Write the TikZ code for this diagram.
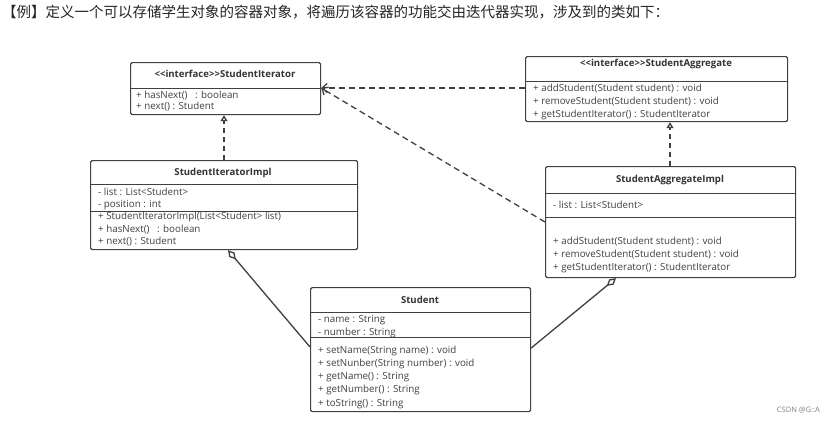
\documentclass[tikz,border=0pt]{standalone}
\usepackage{fontspec}
\setmainfont{Open Sans}[Ligatures=NoCommon]
\newfontfamily\cjk{Noto Sans CJK SC}
\usetikzlibrary{arrows.meta}
\begin{document}
\begin{tikzpicture}[x=1pt,y=-1pt,
  box/.style={draw=black!75,line width=1.2pt,rounded corners=1.5pt,inner sep=0pt},
  div/.style={draw=black!75,line width=1pt},
  tt/.style={font=\fontsize{9.6}{10}\selectfont\bfseries,text=black!80,inner sep=0pt},
  it/.style={font=\fontsize{9.8}{10}\selectfont,text=black!75,anchor=west,inner sep=0pt},
  real/.style={draw=black!75,line width=1.3pt,dash pattern=on 5pt off 4pt,-{Triangle[open,length=6pt,width=7pt]}},
  dep/.style={draw=black!75,line width=1.3pt,dash pattern=on 6pt off 4pt,-{Straight Barb[length=5pt,width=9pt]}},
  agg/.style={draw=black!75,line width=1.3pt,{Diamond[open,length=12pt,width=7pt]}-}]
\useasboundingbox (0,0) rectangle (833,424);
\fill[white] (0,0) rectangle (833,424);
\node[anchor=west,inner sep=0pt,font=\cjk\fontsize{14.5}{16}\selectfont,text=black!85] (title) at (2,12) {【例】定义一个可以存储学生对象的容器对象，将遍历该容器的功能交由迭代器实现，涉及到的类如下：};
\node[anchor=east,inner sep=0pt,font=\fontsize{7.5}{8}\selectfont,text=black!50] (csdn) at (820,410) {CSDN @G::A};
% StudentIterator
\node[box,minimum width=190pt,minimum height=52pt,anchor=north west] (si) at (130,62) {};
\draw[div] (130,88) -- (320,88);
\node[tt] (sit) at (225,74) {{<}{<}interface{>}{>}StudentIterator};
\node[it] (si1) at (136,96) {+ hasNext()\ \ \ : boolean};
\node[it] (si2) at (136,107) {+ next() : Student};
% StudentAggregate
\node[box,minimum width=262pt,minimum height=65pt,anchor=north west] (sa) at (525,56) {};
\draw[div] (525,81) -- (787,81);
\node[tt] (sat) at (656,64) {{<}{<}interface{>}{>}StudentAggregate};
\node[it] (sa1) at (533,89) {+ addStudent(Student student) : void};
\node[it] (sa2) at (533,102) {+ removeStudent(Student student) : void};
\node[it] (sa3) at (533,115) {+ getStudentIterator() : StudentIterator};
% StudentIteratorImpl
\node[box,minimum width=267pt,minimum height=89pt,anchor=north west] (sii) at (90,160) {};
\draw[div] (90,184) -- (357,184);
\draw[div] (90,211) -- (357,211);
\node[tt] (siit) at (223,173) {StudentIteratorImpl};
\node[it] (sii1) at (98,192) {- list : List<Student>};
\node[it] (sii2) at (98,205) {- position : int};
\node[it] (sii3) at (98,217) {+ StudentIteratorImpl(List<Student> list)};
\node[it] (sii4) at (98,230) {+ hasNext()\ \ \ : boolean};
\node[it] (sii5) at (98,242) {+ next() : Student};
% StudentAggregateImpl
\node[box,minimum width=250pt,minimum height=111pt,anchor=north west] (sai) at (545,166) {};
\draw[div] (545,193) -- (795,193);
\draw[div] (545,217) -- (795,217);
\node[tt] (sait) at (670,180) {StudentAggregateImpl};
\node[it] (sai1) at (553,205) {- list : List<Student>};
\node[it] (sai2) at (553,242) {+ addStudent(Student student) : void};
\node[it] (sai3) at (553,255) {+ removeStudent(Student student) : void};
\node[it] (sai4) at (553,268) {+ getStudentIterator() : StudentIterator};
% Student
\node[box,minimum width=220pt,minimum height=124pt,anchor=north west] (st) at (310,287) {};
\draw[div] (310,312) -- (530,312);
\draw[div] (310,337) -- (530,337);
\node[tt] (stt) at (420,300) {Student};
\node[it] (st1) at (318,320) {- name : String};
\node[it] (st2) at (318,333) {- number : String};
\node[it] (st3) at (318,351) {+ setName(String name) : void};
\node[it] (st4) at (318,364) {+ setNunber(String number) : void};
\node[it] (st5) at (318,377) {+ getName() : String};
\node[it] (st6) at (318,390) {+ getNumber() : String};
\node[it] (st7) at (318,404) {+ toString() : String};
% connectors
\draw[real] (sii.north -| 224,0) -- (si.south -| 224,0);
\draw[real] (sai.north -| 670,0) -- (sa.south -| 670,0);
\draw[dep] (sa.west |- 0,88) -- (si.east |- 0,88);
\draw[dep] (sai.west |- 0,222) -- (si.east |- 0,88);
\draw[agg] (sii.south -| 228,0) -- (st.west |- 0,347);
\draw[agg] (sai.south -| 616,0) -- (st.east |- 0,348);
\end{tikzpicture}
\end{document}
